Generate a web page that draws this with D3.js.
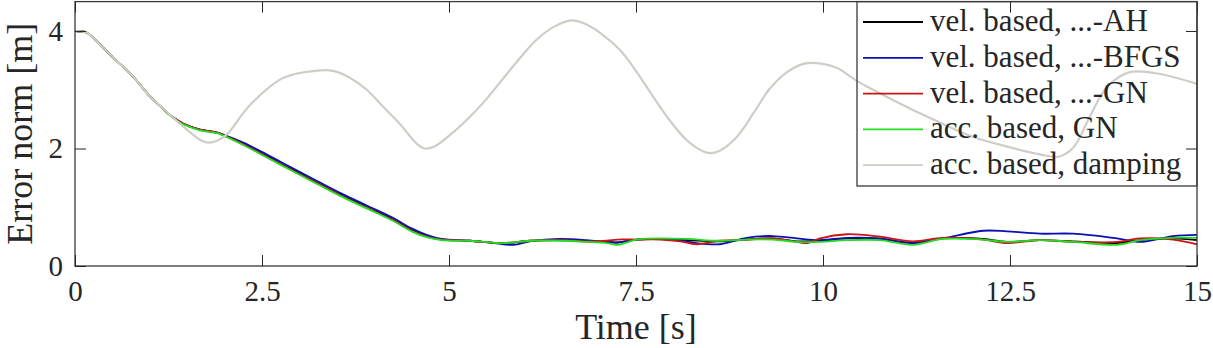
<!DOCTYPE html>
<html>
<head>
<meta charset="utf-8">
<script src="https://cdn.jsdelivr.net/npm/d3@7"></script>
<style>
  body { margin: 0; background: #fff; }
</style>
</head>
<body>
<script>
// [time, error norm] pairs
const velAH = [[0,4.0],[0.16,3.97],[0.33,3.77],[0.55,3.5],[0.78,3.22],[1.0,2.89],[1.14,2.72],[1.3,2.54],[1.45,2.42],[1.67,2.32],[1.9,2.27],[2.0,2.22],[2.25,2.08],[2.56,1.87],[2.9,1.64],[3.23,1.42],[3.55,1.21],[3.9,1.0],[4.25,0.79],[4.5,0.61],[4.7,0.51],[4.9,0.45],[5.28,0.43],[5.73,0.39],[6.08,0.43],[6.48,0.44],[6.84,0.42],[7.11,0.41],[7.25,0.40],[7.51,0.45],[7.82,0.46],[8.18,0.44],[8.62,0.42],[8.98,0.45],[9.33,0.47],[9.65,0.42],[9.96,0.43],[10.32,0.47],[10.76,0.46],[11.2,0.39],[11.6,0.47],[12.14,0.46],[12.46,0.41],[12.9,0.44],[13.34,0.42],[13.93,0.39],[14.24,0.44],[14.68,0.47],[15,0.44]];
const velBFGS = [[0,4.0],[0.16,3.97],[0.33,3.77],[0.55,3.5],[0.78,3.22],[1.0,2.89],[1.14,2.72],[1.3,2.54],[1.45,2.42],[1.67,2.32],[1.9,2.27],[2.0,2.23],[2.25,2.10],[2.56,1.90],[2.9,1.67],[3.23,1.45],[3.55,1.24],[3.9,1.03],[4.25,0.82],[4.5,0.64],[4.7,0.53],[4.9,0.46],[5.28,0.43],[5.6,0.39],[5.86,0.36],[6.08,0.42],[6.48,0.46],[6.84,0.44],[7.11,0.41],[7.25,0.40],[7.51,0.45],[7.82,0.46],[8.09,0.44],[8.31,0.39],[8.62,0.37],[8.98,0.48],[9.33,0.51],[9.65,0.47],[9.96,0.44],[10.32,0.48],[10.76,0.47],[11.2,0.39],[11.6,0.47],[12.14,0.60],[12.46,0.59],[12.9,0.55],[13.34,0.55],[13.93,0.47],[14.24,0.41],[14.68,0.51],[15,0.53]];
const velGN = [[0,4.0],[0.16,3.97],[0.33,3.77],[0.55,3.5],[0.78,3.22],[1.0,2.89],[1.14,2.72],[1.3,2.54],[1.45,2.42],[1.67,2.32],[1.9,2.27],[2.0,2.22],[2.25,2.07],[2.56,1.86],[2.9,1.63],[3.23,1.41],[3.55,1.20],[3.9,0.99],[4.25,0.78],[4.5,0.60],[4.7,0.50],[4.9,0.45],[5.28,0.43],[5.73,0.39],[6.08,0.43],[6.48,0.44],[6.84,0.42],[7.11,0.43],[7.25,0.45],[7.51,0.45],[7.82,0.45],[8.09,0.42],[8.31,0.37],[8.62,0.43],[8.98,0.45],[9.33,0.47],[9.65,0.41],[9.79,0.39],[9.96,0.47],[10.32,0.54],[10.76,0.50],[11.2,0.42],[11.6,0.48],[12.14,0.45],[12.46,0.39],[12.9,0.44],[13.34,0.41],[13.93,0.41],[14.24,0.47],[14.68,0.45],[15,0.37]];
const accGN = [[0,4.0],[0.16,3.97],[0.33,3.77],[0.55,3.5],[0.78,3.22],[1.0,2.89],[1.14,2.72],[1.3,2.53],[1.45,2.41],[1.67,2.31],[1.9,2.26],[2.0,2.21],[2.25,2.06],[2.56,1.85],[2.9,1.62],[3.23,1.40],[3.55,1.19],[3.9,0.98],[4.25,0.77],[4.5,0.59],[4.7,0.49],[4.9,0.44],[5.28,0.43],[5.73,0.39],[6.08,0.43],[6.48,0.43],[6.84,0.41],[7.11,0.39],[7.25,0.36],[7.51,0.45],[7.82,0.47],[8.18,0.46],[8.62,0.43],[8.98,0.45],[9.33,0.45],[9.65,0.41],[9.96,0.41],[10.32,0.44],[10.76,0.44],[11.2,0.36],[11.6,0.46],[12.14,0.45],[12.46,0.41],[12.9,0.44],[13.34,0.41],[13.93,0.36],[14.24,0.44],[14.68,0.48],[15,0.48]];
const accDamping = [[0,4.0],[0.16,3.97],[0.33,3.77],[0.55,3.5],[0.78,3.22],[1.0,2.89],[1.23,2.62],[1.45,2.37],[1.67,2.15],[1.78,2.10],[1.9,2.13],[2.03,2.24],[2.34,2.74],[2.78,3.2],[3.28,3.33],[3.45,3.32],[3.68,3.2],[3.9,3.0],[4.12,2.71],[4.35,2.41],[4.57,2.08],[4.68,2.0],[4.8,2.03],[5.06,2.28],[5.28,2.54],[5.5,2.84],[5.73,3.2],[5.95,3.54],[6.17,3.85],[6.4,4.07],[6.64,4.18],[6.84,4.11],[7.06,3.93],[7.29,3.67],[7.51,3.3],[7.73,2.88],[7.95,2.48],[8.18,2.14],[8.4,1.95],[8.51,1.92],[8.62,1.96],[8.85,2.2],[9.07,2.6],[9.29,3.02],[9.52,3.3],[9.74,3.44],[9.96,3.45],[10.19,3.37],[10.45,3.15],[10.67,3.0],[11.1,2.72],[11.5,2.48],[12.0,2.2],[12.5,2.02],[12.9,1.9],[13.15,1.86],[13.35,2.02],[13.57,2.55],[13.8,3.05],[14.1,3.30],[14.45,3.28],[15,3.10]];

const seriesNames = ['vel. based, ...-AH', 'vel. based, ...-BFGS', 'vel. based, ...-GN', 'acc. based, GN', 'acc. based, damping'];
const seriesData = [velAH, velBFGS, velGN, accGN, accDamping];
const seriesColors = ['#000000', '#0a10b4', '#cc1414', '#22dd22', '#cfcdc6'];
const seriesWidths = [1.8, 1.8, 1.8, 1.8, 2.2];
const xTicks = [0, 2.5, 5, 7.5, 10, 12.5, 15];
const yTicks = [0, 2, 4];

const graph = {
    width: 1213,
    height: 348,
    plotLeft: 75,
    plotRight: 1197,
    plotTop: 1.6,
    plotBottom: 266
};
const { width, height, plotLeft, plotRight, plotTop, plotBottom } = graph;
const serif = '"Liberation Serif", "Times New Roman", serif';

const svg = d3.select('body').append('svg')
              .attr('width', width)
              .attr('height', height);

const x = d3.scaleLinear().domain([0, 15]).range([plotLeft, plotRight]);
const y = d3.scaleLinear().domain([0, 4.5]).range([plotBottom, plotTop]);

const line = d3.line()
               .x(d => x(d[0]))
               .y(d => y(d[1]))
               .curve(d3.curveCatmullRom.alpha(0.5));

svg.selectAll('path.series')
   .data(seriesData)
   .enter()
   .append('path')
   .attr('class', 'series')
   .attr('d', line)
   .attr('fill', 'none')
   .attr('stroke', (d, i) => seriesColors[i])
   .attr('stroke-width', (d, i) => seriesWidths[i]);

// box and inward ticks on all four sides
const tickLen = 11;
svg.append('rect')
   .attr('x', plotLeft).attr('y', plotTop)
   .attr('width', plotRight - plotLeft).attr('height', plotBottom - plotTop)
   .attr('fill', 'none')
   .attr('stroke', '#3a3a3a')
   .attr('stroke-width', 1.3);

svg.append('g')
   .attr('transform', `translate(0,${plotBottom})`)
   .call(d3.axisBottom(x).tickValues(xTicks).tickSize(-tickLen).tickPadding(14).tickFormat(d3.format('')));
svg.append('g')
   .attr('transform', `translate(0,${plotTop})`)
   .call(d3.axisTop(x).tickValues(xTicks).tickSize(-tickLen).tickFormat(''));
svg.append('g')
   .attr('transform', `translate(${plotLeft},0)`)
   .call(d3.axisLeft(y).tickValues(yTicks).tickSize(-tickLen).tickPadding(12).tickFormat(d3.format('')));
svg.append('g')
   .attr('transform', `translate(${plotRight},0)`)
   .call(d3.axisRight(y).tickValues(yTicks).tickSize(-tickLen).tickFormat(''));

svg.selectAll('.domain').remove();
svg.selectAll('.tick line').attr('stroke', '#262626').attr('stroke-width', 1);
svg.selectAll('.tick text').attr('font-size', 29);

svg.append('text')
   .attr('x', (plotLeft + plotRight) / 2)
   .attr('y', 339)
   .attr('text-anchor', 'middle')
   .attr('font-size', 36)
   .text('Time [s]');

svg.append('text')
   .attr('transform', `translate(32,${(plotTop + plotBottom) / 2}) rotate(-90)`)
   .attr('text-anchor', 'middle')
   .attr('font-size', 36)
   .text('Error norm [m]');

// legend (no background, the grey line shows through)
const legend = svg.append('g');
legend.append('rect')
      .attr('x', 857).attr('y', plotTop)
      .attr('width', plotRight - 857).attr('height', 186 - plotTop)
      .attr('fill', 'none')
      .attr('stroke', '#3a3a3a')
      .attr('stroke-width', 1.3);

const entries = legend.selectAll('g.entry')
                      .data(seriesNames)
                      .enter()
                      .append('g')
                      .attr('class', 'entry')
                      .attr('transform', (d, i) => `translate(0,${22 + i * 35.8})`);
entries.append('line')
       .attr('x1', 863).attr('x2', 923)
       .attr('stroke', (d, i) => seriesColors[i])
       .attr('stroke-width', 1.8);
entries.append('text')
       .attr('x', 930)
       .attr('y', 9)
       .attr('font-size', 31)
       .text(d => d);

svg.selectAll('text')
   .style('font-family', serif)
   .style('fill', '#262626');
</script>
</body>
</html>
